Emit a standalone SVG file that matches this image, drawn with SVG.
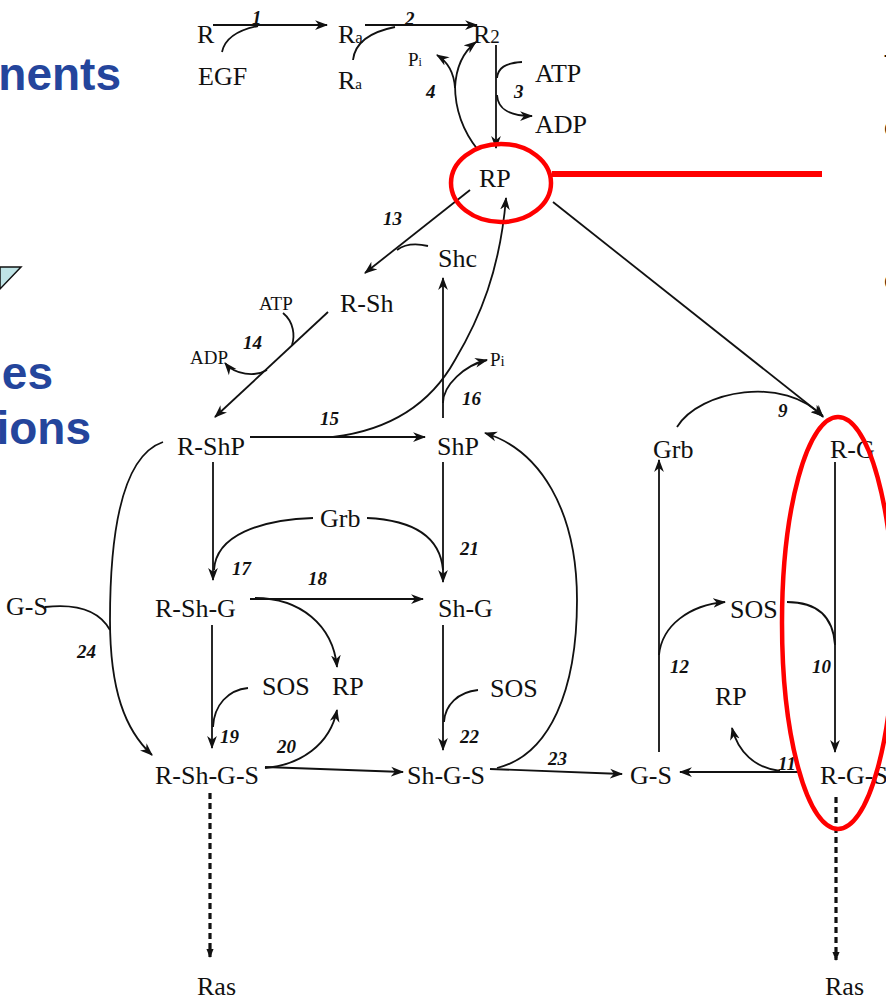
<svg xmlns="http://www.w3.org/2000/svg" width="886" height="999" viewBox="0 0 886 999">
<style>
.n{font-family:"Liberation Serif","Times New Roman",serif;font-size:26px;fill:#111}
.s{font-family:"Liberation Serif","Times New Roman",serif;font-size:19px;fill:#111}
.k{font-family:"Liberation Serif","Times New Roman",serif;font-size:19px;font-weight:bold;font-style:italic;fill:#111}
.b{font-family:"Liberation Sans",Arial,sans-serif;font-size:46px;font-weight:bold;fill:#24459c}
.c{fill:none;stroke:#111;stroke-width:1.8}
.a{marker-end:url(#ah)}
.d{fill:none;stroke:#111;stroke-width:3.2;stroke-dasharray:6 4;marker-end:url(#ahs)}
.r{fill:none;stroke:#ff0000;stroke-width:4.5}
</style>
<defs>
<marker id="ah" viewBox="0 0 12 10" refX="11" refY="5" markerWidth="13" markerHeight="11" markerUnits="userSpaceOnUse" orient="auto"><path d="M0,0.5 L12,5 L0,9.5 L3.5,5 z" fill="#111"/></marker>
<marker id="ahs" viewBox="0 0 10 10" refX="9" refY="5" markerWidth="9" markerHeight="9" markerUnits="userSpaceOnUse" orient="auto"><path d="M0,1 L10,5 L0,9 z" fill="#111"/></marker>
</defs>
<rect width="886" height="999" fill="#fff"/>

<g id="slide-text">
<text class="b" x="121" y="90" text-anchor="end">nents</text>
<text class="b" x="53" y="389" text-anchor="end">es</text>
<text class="b" x="91" y="444" text-anchor="end">ions</text>
<polygon points="0,267 21,267 0,289" fill="#bfe4e6" stroke="#111" stroke-width="1.5"/>
<text x="884" y="73" font-family="Liberation Sans,Arial,sans-serif" font-size="26" fill="#111">T</text>
<text x="884" y="136" font-family="Liberation Sans,Arial,sans-serif" font-size="26" fill="#111">c</text>
<text x="884" y="289" font-family="Liberation Sans,Arial,sans-serif" font-size="26" fill="#111">c</text>
</g>

<g id="connectors">
<path class="c a" d="M213,25 H327"/>
<path class="c" d="M222,52 C225,38 238,30 258,26"/>
<path class="c a" d="M365,25 H477"/>
<path class="c" d="M353,60 C355,42 370,32 395,27"/>
<path class="c a" d="M496,45 V148"/>
<path class="c" d="M522,62 C505,63 498,68 497,78"/>
<path class="c a" d="M497,95 C498,110 510,116 532,116"/>
<path class="c" d="M478,150 C462,130 455,108 455,85"/>
<path class="c a" d="M455,88 C454,72 448,62 437,55"/>
<path class="c a" d="M455,88 C456,66 463,52 476,42"/>
<path class="c a" d="M553,202 L823,416"/>
<path class="c a" d="M470,190 L365,273"/>
<path class="c" d="M428,246 C415,243 405,244 397,250"/>
<path class="c a" d="M328,312 L215,417"/>
<path class="c" d="M283,313 C294,322 295,336 292,345"/>
<path class="c a" d="M267,370 C255,377 235,375 225,363"/>
<path class="c a" d="M250,437 H425"/>
<path class="c a" d="M333,437 C390,430 430,405 455,360 C480,318 500,270 506,198"/>
<path class="c a" d="M443,418 V278"/>
<path class="c a" d="M443,403 C443,385 465,365 487,360"/>
<path class="c a" d="M213,462 V580"/>
<path class="c" d="M313,518 C260,520 216,535 214,570"/>
<path class="c a" d="M443,462 V582"/>
<path class="c" d="M367,518 C410,520 440,535 443,570"/>
<path class="c a" d="M250,599 H423"/>
<path class="c a" d="M255,598 C300,598 333,625 337,667"/>
<path class="c a" d="M163,442 C125,455 110,520 110,620 C110,690 125,730 152,755"/>
<path class="c" d="M45,607 C80,603 100,612 110,630"/>
<path class="c a" d="M212,625 V748"/>
<path class="c" d="M248,688 C228,690 214,705 213,727"/>
<path class="c a" d="M265,768 C300,765 330,745 337,710"/>
<path class="c a" d="M265,767 L403,772"/>
<path class="c a" d="M443,625 V750"/>
<path class="c" d="M478,690 C458,692 445,705 444,722"/>
<path class="c a" d="M497,768 C550,755 577,690 577,600 C577,510 540,450 485,433"/>
<path class="c a" d="M490,769 L622,774"/>
<path class="c a" d="M659,752 V460"/>
<path class="c a" d="M659,655 C662,625 690,605 725,602"/>
<path class="c a" d="M677,427 C700,390 785,375 823,417"/>
<path class="c a" d="M835,462 V752"/>
<path class="c" d="M787,602 C815,602 833,615 835,645"/>
<path class="c a" d="M800,772 H680"/>
<path class="c a" d="M780,771 C755,768 738,752 732,728"/>
<path class="d" d="M210,793 V957"/>
<path class="d" d="M836,797 V960"/>
</g>

<g id="labels">
<text class="k" x="252" y="24">1</text>
<text class="k" x="405" y="25">2</text>
<text class="k" x="514" y="98">3</text>
<text class="k" x="426" y="98">4</text>
<text class="k" x="383" y="225">13</text>
<text class="k" x="243" y="349">14</text>
<text class="k" x="320" y="425">15</text>
<text class="k" x="462" y="405">16</text>
<text class="k" x="778" y="417">9</text>
<text class="k" x="232" y="575">17</text>
<text class="k" x="460" y="555">21</text>
<text class="k" x="308" y="585">18</text>
<text class="k" x="77" y="658">24</text>
<text class="k" x="220" y="743">19</text>
<text class="k" x="277" y="753">20</text>
<text class="k" x="460" y="743">22</text>
<text class="k" x="548" y="765">23</text>
<text class="k" x="670" y="673">12</text>
<text class="k" x="812" y="673">10</text>
<text class="k" x="778" y="770">11</text>
</g>

<g id="node-R"><text class="n" x="197" y="43">R</text></g>
<g id="node-EGF"><text class="n" x="198" y="85" font-size="25">EGF</text></g>
<g id="node-Ra"><text class="n" x="338" y="43">R<tspan font-size="17">a</tspan></text></g>
<g id="node-Ra2"><text class="n" x="338" y="89" font-size="22">R<tspan font-size="15">a</tspan></text></g>
<g id="node-R2"><text class="n" x="473" y="43">R<tspan font-size="19">2</tspan></text></g>
<g id="node-Pi1"><text class="s" x="408" y="66" font-size="17">P<tspan font-size="12">i</tspan></text></g>
<g id="node-ATP1"><text class="n" x="535" y="82" font-size="21">ATP</text></g>
<g id="node-ADP1"><text class="n" x="535" y="133" font-size="21">ADP</text></g>
<g id="node-RP"><text class="n" x="479" y="187">RP</text></g>
<g id="node-Shc"><text class="n" x="438" y="267" font-size="25">Shc</text></g>
<g id="node-RSh"><text class="n" x="340" y="312" font-size="25">R-Sh</text></g>
<g id="node-ATP2"><text class="s" x="259" y="310">ATP</text></g>
<g id="node-ADP2"><text class="s" x="190" y="364">ADP</text></g>
<g id="node-Pi2"><text class="s" x="490" y="366" font-size="21">P<tspan font-size="15">i</tspan></text></g>
<g id="node-RShP"><text class="n" x="177" y="455">R-ShP</text></g>
<g id="node-ShP"><text class="n" x="437" y="455">ShP</text></g>
<g id="node-Grb1"><text class="n" x="320" y="527">Grb</text></g>
<g id="node-RShG"><text class="n" x="155" y="617">R-Sh-G</text></g>
<g id="node-ShG"><text class="n" x="438" y="617">Sh-G</text></g>
<g id="node-GS1"><text class="n" x="6" y="615" font-size="24">G-S</text></g>
<g id="node-SOS1"><text class="n" x="262" y="695">SOS</text></g>
<g id="node-RP2"><text class="n" x="332" y="695">RP</text></g>
<g id="node-SOS2"><text class="n" x="490" y="697">SOS</text></g>
<g id="node-RShGS"><text class="n" x="155" y="784">R-Sh-G-S</text></g>
<g id="node-ShGS"><text class="n" x="407" y="784">Sh-G-S</text></g>
<g id="node-GS2"><text class="n" x="630" y="784">G-S</text></g>
<g id="node-Grb2"><text class="n" x="653" y="458">Grb</text></g>
<g id="node-RG"><text class="n" x="830" y="458">R-G</text></g>
<g id="node-SOS3"><text class="n" x="730" y="618">SOS</text></g>
<g id="node-RP3"><text class="n" x="715" y="705">RP</text></g>
<g id="node-RGS"><text class="n" x="820" y="784">R-G-S</text></g>
<g id="node-Ras1"><text class="n" x="197" y="995" font-size="22">Ras</text></g>
<g id="node-Ras2"><text class="n" x="825" y="995" font-size="22">Ras</text></g>

<g id="highlights">
<ellipse class="r" cx="501" cy="183" rx="50" ry="39"/>
<path d="M552,174 H822" stroke="#ff0000" stroke-width="6" fill="none"/>
<ellipse class="r" cx="838" cy="623" rx="56" ry="206"/>
</g>
</svg>
